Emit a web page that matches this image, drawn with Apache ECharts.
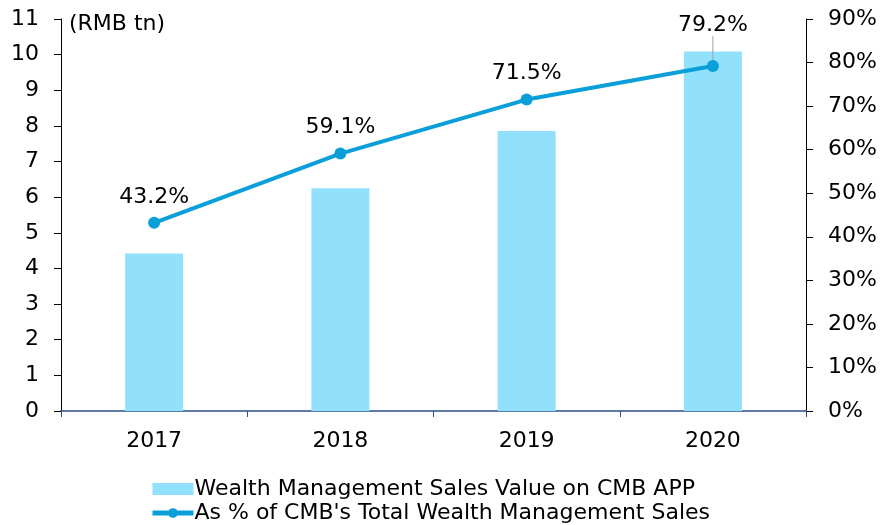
<!DOCTYPE html>
<html><head><meta charset="utf-8">
<script src="https://cdn.jsdelivr.net/npm/echarts@6/dist/echarts.min.js"></script>
<style>html,body{margin:0;padding:0;background:#fff}#c{width:890px;height:525px}</style>
</head><body><div id="c"></div>
<script>
const categories = ['2017', '2018', '2019', '2020'];
const salesValue = [4.42, 6.25, 7.86, 10.09];
const sharePct = [43.2, 59.1, 71.5, 79.2];
const leftTicks = [0, 1, 2, 3, 4, 5, 6, 7, 8, 9, 10, 11];
const rightTicks = [0, 10, 20, 30, 40, 50, 60, 70, 80, 90];
const seriesNames = ['Wealth Management Sales Value on CMB APP', "As % of CMB's Total Wealth Management Sales"];
const unitLabel = '(RMB tn)';

const FONT = '"DejaVu Sans", sans-serif';
const FS = 22;
const lineData = sharePct.map((v, i) => i === sharePct.length - 1
  ? { value: v, labelLine: { show: true, lineStyle: { color: '#a0a0a0', width: 1 } } }
  : { value: v, labelLine: { show: false } });
const chart = echarts.init(document.getElementById('c'));
chart.setOption({
  animation: false,
  textStyle: { fontFamily: FONT },
  grid: { left: 61, right: 84, top: 19, bottom: 114, containLabel: false },
  graphic: [{ type: 'text', left: 69, top: 13, style: { text: unitLabel, font: FS + 'px ' + FONT, fill: '#000' } }],
  legend: {
    orient: 'vertical', left: 145, top: 473, height: 60, itemWidth: 41, itemHeight: 12, itemGap: 2,
    textStyle: { fontSize: FS, color: '#000', fontFamily: FONT, padding: [0, 0, 0, -4] },
    data: [
      { name: seriesNames[0], icon: 'rect' },
      { name: seriesNames[1], lineStyle: { width: 5, color: '#0a9fd9' }, itemStyle: { color: '#0a9fd9' } }
    ]
  },
  xAxis: {
    type: 'category', data: categories,
    axisLine: { lineStyle: { color: '#2b4f8c', width: 1.5 } },
    axisTick: { show: true, length: 6, inside: false, lineStyle: { color: '#2b4f8c' } },
    axisLabel: { color: '#000', fontSize: FS, margin: 19, fontFamily: FONT }
  },
  yAxis: [{
    type: 'value', min: leftTicks[0], max: leftTicks[leftTicks.length - 1], interval: 1,
    axisLine: { show: true, lineStyle: { color: '#000' } },
    axisTick: { show: true, length: 7, lineStyle: { color: '#000' } },
    splitLine: { show: false },
    axisLabel: { color: '#000', fontSize: FS, margin: 22, fontFamily: FONT }
  }, {
    type: 'value', min: rightTicks[0], max: rightTicks[rightTicks.length - 1], interval: 10,
    position: 'right',
    axisLine: { show: true, lineStyle: { color: '#000' } },
    axisTick: { show: true, length: 7, lineStyle: { color: '#000' } },
    splitLine: { show: false },
    axisLabel: { color: '#000', fontSize: FS, margin: 22, fontFamily: FONT, formatter: '{value}%' }
  }],
  series: [{
    name: seriesNames[0], type: 'bar', data: salesValue, barWidth: 58,
    itemStyle: { color: '#91e1fc' }
  }, {
    name: seriesNames[1], type: 'line', yAxisIndex: 1, data: lineData,
    lineStyle: { color: '#0a9fd9', width: 4 },
    itemStyle: { color: '#0a9fd9' },
    symbol: 'circle', symbolSize: 12,
    label: { show: true, position: 'top', distance: 9, color: '#000', fontSize: FS, fontFamily: FONT, formatter: p => p.value.toFixed(1) + '%' },
    labelLayout: p => p.dataIndex === 3 ? { dy: -15 } : {}
  }]
});
</script></body></html>
